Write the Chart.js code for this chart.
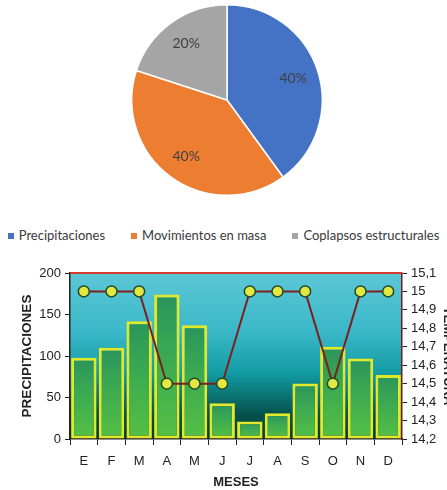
<!DOCTYPE html>
<html lang="es">
<head>
<meta charset="utf-8">
<title>Precipitaciones y temperatura</title>
<script src="https://cdn.jsdelivr.net/npm/chart.js@4.4.1/dist/chart.umd.min.js"></script>
<style>
  html, body { margin: 0; background: #fff; overflow: hidden; }
  #pie-box { position: absolute; left: 0; top: 0; width: 447px; height: 200px; }
  #leyenda {
    position: absolute; left: 0; top: 226px; width: 447px;
    display: flex; justify-content: center; gap: 26px;
    font: 13px Lato, sans-serif; color: #3a3a3a; line-height: 18px; white-space: nowrap;
  }
  #leyenda .caja { display: inline-block; width: 6px; height: 6px; margin-right: 5px; vertical-align: 1px; }
  #bar-box { position: absolute; left: 0; top: 255px; width: 455px; height: 235px; }
</style>
</head>
<body>
<div id="pie-box"><canvas id="grafico-causas"></canvas></div>
<div id="leyenda"></div>
<div id="bar-box"><canvas id="grafico-clima"></canvas></div>

<script>
// causas (grafico circular)
const causas = ["Precipitaciones", "Movimientos en masa", "Coplapsos estructurales"];
const porcentajes = [40, 40, 20];
const coloresCausas = ["#4472c4", "#ed7d31", "#a5a5a5"];

// clima mensual
const meses = ["E", "F", "M", "A", "M", "J", "J", "A", "S", "O", "N", "D"];
const precipitaciones = [98, 110, 142, 174, 137, 43, 21, 31, 67, 111, 97, 77];
const temperaturas = [15, 15, 15, 14.5, 14.5, 14.5, 15, 15, 15, 14.5, 15, 15];

document.addEventListener("DOMContentLoaded", function () {
  // etiquetas de porcentaje dentro de cada porcion
  const etiquetasPie = {
    id: "etiquetasPie",
    afterDatasetsDraw(chart) {
      const ctx = chart.ctx;
      const meta = chart.getDatasetMeta(0);
      ctx.save();
      ctx.font = "14px Lato, sans-serif";
      ctx.fillStyle = "#404040";
      ctx.textAlign = "center";
      ctx.textBaseline = "middle";
      meta.data.forEach((arc, i) => {
        const mid = (arc.startAngle + arc.endAngle) / 2;
        const r = arc.outerRadius * 0.73;
        ctx.fillText(porcentajes[i] + "%", arc.x + Math.cos(mid) * r, arc.y + Math.sin(mid) * r);
      });
      ctx.restore();
    }
  };

  new Chart(document.getElementById("grafico-causas"), {
    type: "pie",
    data: {
      labels: causas,
      datasets: [{
        data: porcentajes,
        backgroundColor: coloresCausas,
        borderColor: "#ffffff",
        borderWidth: 1.5
      }]
    },
    options: {
      responsive: true,
      maintainAspectRatio: false,
      animation: false,
      layout: { padding: { top: 4, bottom: 4, left: 7 } },
      plugins: { legend: { display: false }, tooltip: { enabled: false } }
    },
    plugins: [etiquetasPie]
  });

  // leyenda en html
  const leyenda = document.getElementById("leyenda");
  causas.forEach((c, i) => {
    const item = document.createElement("span");
    item.innerHTML = `<span class="caja" style="background:${coloresCausas[i]}"></span>${c}`;
    leyenda.appendChild(item);
  });

  // fondo degradado del area de trazado + borde superior rojo
  const fondoGrafico = {
    id: "fondoGrafico",
    beforeDraw(chart) {
      const { ctx, chartArea: a } = chart;
      const g = ctx.createLinearGradient(0, a.top, 0, a.bottom);
      g.addColorStop(0, "#5cc7d6");
      g.addColorStop(0.35, "#3bb8c8");
      g.addColorStop(0.6, "#139ca4");
      g.addColorStop(0.85, "#05524c");
      g.addColorStop(1, "#033c32");
      ctx.save();
      ctx.fillStyle = g;
      ctx.fillRect(a.left, a.top, a.width, a.height);
      ctx.restore();
    },
    afterDraw(chart) {
      const { ctx, chartArea: a } = chart;
      ctx.save();
      ctx.strokeStyle = "#d33a2c";
      ctx.lineWidth = 2;
      ctx.beginPath();
      ctx.moveTo(a.left, a.top);
      ctx.lineTo(a.right, a.top);
      ctx.stroke();
      ctx.restore();
    }
  };

  const fuente = "'Liberation Sans', Arial, sans-serif";

  new Chart(document.getElementById("grafico-clima"), {
    type: "bar",
    data: {
      labels: meses,
      datasets: [
        {
          type: "line",
          label: "Temperatura",
          data: temperaturas,
          yAxisID: "y1",
          order: 0,
          borderColor: "#7c1f1f",
          borderWidth: 2,
          tension: 0,
          pointRadius: 5.5,
          pointBackgroundColor: "#e2e840",
          pointBorderColor: "#1f4a2a",
          pointBorderWidth: 1.5
        },
        {
          label: "Precipitaciones",
          data: precipitaciones,
          yAxisID: "y",
          order: 1,
          backgroundColor: function (c) {
            const chart = c.chart;
            if (!chart.chartArea || !chart.scales.y) return "#4cbb48";
            const top = chart.scales.y.getPixelForValue(c.parsed.y);
            const bottom = chart.scales.y.getPixelForValue(0);
            const g = chart.ctx.createLinearGradient(0, top, 0, bottom);
            g.addColorStop(0, "#2a945c");
            g.addColorStop(0.4, "#3aa852");
            g.addColorStop(1, "#55c044");
            return g;
          },
          borderColor: "#e2e82a",
          borderWidth: 3,
          borderSkipped: false,
          barPercentage: 0.92,
          categoryPercentage: 1
        }
      ]
    },
    options: {
      responsive: true,
      maintainAspectRatio: false,
      animation: false,
      layout: { padding: { top: 18, left: 0, right: 0, bottom: 0 } },
      plugins: { legend: { display: false }, tooltip: { enabled: false } },
      scales: {
        x: {
          grid: { offset: true, drawOnChartArea: false, color: "#222", tickLength: 6 },
          border: { color: "#222", width: 1.5 },
          ticks: { color: "#222", font: { family: fuente, size: 13 }, padding: 9 },
          title: { display: true, text: "MESES", color: "#222", font: { family: fuente, size: 13, weight: "bold" }, padding: { top: 0, bottom: 0 } },
          afterFit(s) { s.height = 51; }
        },
        y: {
          position: "left",
          min: 0,
          max: 200,
          ticks: { stepSize: 50, color: "#222", font: { family: fuente, size: 13 }, padding: 4 },
          grid: { drawOnChartArea: false, color: "#222", tickLength: 5 },
          border: { color: "#222", width: 1.5 },
          title: { display: true, text: "PRECIPITACIONES", color: "#222", font: { family: fuente, size: 13.5, weight: "bold" }, padding: { top: 19, bottom: 0 } },
          afterFit(s) { s.width = 70; }
        },
        y1: {
          position: "right",
          min: 14.2,
          max: 15.1,
          ticks: {
            stepSize: 0.1,
            autoSkip: false,
            color: "#222",
            font: { family: fuente, size: 13 },
            padding: 4,
            callback: v => String(+v.toFixed(1)).replace(".", ",")
          },
          grid: { drawOnChartArea: false, color: "#222", tickLength: 5 },
          border: { color: "#6e1c1c", width: 1.5 },
          title: { display: true, text: "TEMPERATURA", color: "#222", font: { family: fuente, size: 13, weight: "bold" }, padding: { top: 0, bottom: 0 } },
          afterFit(s) { s.width = 53; }
        }
      }
    },
    plugins: [fondoGrafico]
  });
});
</script>
</body>
</html>
